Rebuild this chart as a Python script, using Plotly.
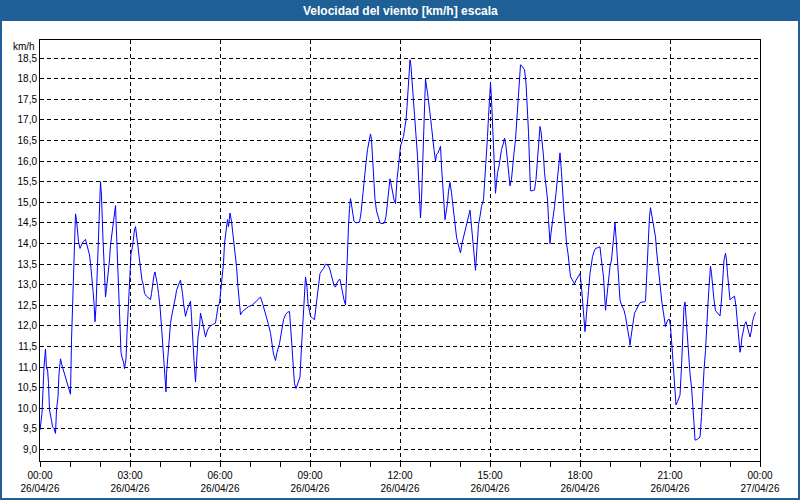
import pandas as pd
import plotly.graph_objects as go

# ---- data ----
fecha_base = "2026-04-26"
minutos = [
    0, 4, 8, 11, 13, 15, 17, 19, 23, 25, 28, 31, 33, 36, 38, 41, 44, 47, 51, 55, 58, 61, 63, 65, 68, 69, 71, 73, 75, 77,
    80, 83, 86, 91, 93, 96, 99, 101, 104, 106, 108, 110, 112, 114, 116, 118, 119, 121, 123, 124, 126, 128, 131, 133, 135, 137, 139, 141, 144, 147,
    149, 151, 152, 154, 156, 158, 160, 162, 164, 167, 169, 172, 174, 176, 178, 180, 182, 185, 187, 189, 191, 193, 196, 199, 201, 204, 207, 209, 213, 216,
    221, 223, 225, 228, 230, 232, 235, 237, 240, 243, 245, 248, 250, 252, 253, 255, 257, 259, 261, 263, 266, 268, 271, 273, 276, 279, 281, 283, 285, 287,
    291, 294, 297, 301, 303, 305, 308, 311, 313, 316, 319, 321, 324, 327, 331, 335, 339, 345, 351, 353, 356, 359, 361, 364, 367, 369, 372, 375, 377, 380,
    383, 385, 388, 391, 393, 396, 399, 401, 405, 411, 417, 424, 431, 436, 441, 445, 449, 453, 457, 461, 464, 467, 471, 474, 479, 483, 487, 491, 495, 499,
    501, 504, 507, 509, 512, 515, 517, 520, 523, 525, 528, 531, 532, 534, 536, 539, 541, 545, 549, 552, 555, 557, 560, 564, 567, 571,
    577, 580, 583, 585, 588, 591, 593, 597, 600, 603, 605, 608, 611, 613, 615, 617, 619, 621, 623, 625, 628, 632, 639, 642, 645, 649, 652, 655, 659, 661,
    663, 665, 667, 670, 673, 677, 680, 684, 689, 692, 695, 697, 700, 703, 705, 708, 711, 712, 714, 717, 719, 721, 724, 727, 729, 732, 734, 736, 738, 740,
    742, 744, 747, 749, 752, 755, 757, 759, 761, 763, 765, 767, 769, 771, 772, 775, 777, 780, 783, 785, 788, 791, 793, 796, 799, 801, 803, 805, 808, 810,
    812, 815, 817, 820, 823, 825, 828, 831, 833, 836, 839, 841, 844, 847, 849, 852, 855, 857, 860,
    863, 865, 868, 871, 873, 875, 877, 880, 883, 887, 889, 892, 895, 897, 900, 901, 903, 905, 907, 909, 911, 913, 915, 918, 921, 923, 927, 929, 932, 935,
    937, 940, 943, 945, 948, 951, 953, 956, 959, 961, 964, 967, 969, 972, 975, 977, 979, 981, 984, 987, 989, 992, 995, 997, 1000, 1002, 1004, 1007, 1009, 1012,
    1015, 1017, 1020, 1022, 1024, 1027, 1029, 1032, 1035, 1037, 1040, 1043, 1045, 1048, 1051, 1053, 1056, 1059, 1061, 1064, 1067, 1069, 1072, 1075, 1077, 1080,
    1083, 1085, 1088, 1090, 1092, 1094, 1097, 1100, 1103, 1105, 1108, 1111, 1116, 1120, 1122, 1125, 1127, 1129, 1131, 1133, 1135, 1137, 1140, 1143, 1145, 1148, 1150,
    1152, 1155, 1157, 1160, 1163, 1165, 1168, 1171, 1173, 1176, 1179, 1180, 1182, 1184, 1187, 1189, 1192, 1195, 1197, 1200, 1204, 1208, 1211, 1213, 1215, 1217, 1219, 1221, 1223, 1225,
    1228, 1231, 1233, 1236, 1239, 1241, 1244, 1247, 1249, 1251, 1253, 1256, 1259, 1261, 1264, 1266, 1268, 1270, 1272, 1275, 1277, 1280, 1283, 1285, 1288, 1290, 1292, 1295, 1297, 1300,
    1303, 1305, 1308, 1310, 1312, 1315, 1317, 1320, 1323, 1325, 1328, 1331, 1333, 1336, 1339, 1341, 1343, 1345, 1348, 1351, 1355, 1360, 1363, 1365, 1368, 1371, 1373, 1375, 1377, 1380,
    1383, 1385, 1389, 1392, 1395, 1397, 1400, 1402, 1404, 1407, 1409, 1412, 1415, 1417, 1420, 1423, 1425, 1428, 1431,
]
velocidad = [
    9.47, 9.88, 11.0, 11.44, 10.96, 10.96, 10.6, 9.96, 9.71, 9.55, 9.51, 9.39, 9.96, 10.28, 10.84, 11.2, 11.04, 10.92, 10.76, 10.6, 10.44, 10.34, 11.65, 12.5, 13.4, 14.3, 14.72, 14.58, 14.3, 14.04,
    13.88, 13.96, 14.04, 14.1, 14.0, 13.84, 13.72, 13.52, 13.19, 12.86, 12.55, 12.1, 12.47, 13.11, 13.76, 14.5, 14.9, 15.5, 15.15, 14.66, 14.08, 13.56, 12.7, 12.91, 13.11, 13.39, 13.6, 13.96, 14.25, 14.5,
    14.74, 14.92, 14.58, 13.84, 13.15, 12.47, 11.78, 11.36, 11.24, 11.12, 10.96, 11.2, 11.82, 12.3, 12.86, 13.35, 13.76, 13.92, 14.16, 14.33, 14.41, 14.16, 13.92, 13.6, 13.35, 13.11, 12.98, 12.79, 12.72, 12.69,
    12.64, 12.79, 13.02, 13.23, 13.31, 13.19, 12.98, 12.79, 12.47, 11.98, 11.57, 11.08, 10.56, 10.4, 10.84, 11.16, 11.57, 11.9, 12.06, 12.22, 12.38, 12.5, 12.7, 12.86, 12.98, 13.06, 13.11, 12.98, 12.79, 12.55,
    12.23, 12.38, 12.5, 12.6, 12.23, 11.65, 11.16, 10.64, 11.16, 11.73, 11.98, 12.31, 12.15, 11.98, 11.73, 11.9, 11.98, 12.03, 12.07, 12.23, 12.47, 12.55, 12.79, 13.11, 13.52, 14.0, 14.33, 14.58, 14.41, 14.74,
    14.54, 14.33, 14.0, 13.76, 13.44, 12.94, 12.55, 12.27, 12.35, 12.41, 12.47, 12.5, 12.59, 12.64, 12.7, 12.55, 12.38, 12.23, 12.03, 11.82, 11.57, 11.32, 11.16, 11.36, 11.57, 11.82, 12.15, 12.27, 12.33, 12.35,
    12.07, 11.49, 10.93, 10.6, 10.48, 10.6, 10.68, 10.76, 11.49, 11.98, 12.63, 13.19, 13.11, 12.94, 12.55, 12.31, 12.23, 12.19, 12.15, 12.47, 12.79, 13.11, 13.27, 13.35, 13.39, 13.5,
    13.46, 13.36, 13.19, 13.11, 12.98, 12.94, 13.02, 13.11, 13.13, 12.94, 12.79, 12.63, 12.51, 13.27, 13.83, 14.42, 14.85, 15.09, 14.94, 14.74, 14.54, 14.5, 14.52, 14.74, 15.15, 15.56, 15.96, 16.28, 16.52, 16.66,
    16.52, 16.04, 15.47, 15.07, 14.79, 14.62, 14.5, 14.48, 14.5, 14.66, 15.02, 15.31, 15.57, 15.39, 15.23, 15.06, 14.97, 15.23, 15.56, 15.88, 16.12, 16.36, 16.48, 16.6, 16.76, 17.0, 17.32, 17.74, 18.14, 18.46,
    18.3, 17.98, 17.56, 17.08, 16.6, 16.12, 15.64, 15.15, 14.62, 15.06, 15.72, 16.37, 17.08, 18.0, 17.9, 17.66, 17.4, 17.16, 16.84, 16.52, 16.28, 16.0, 16.16, 16.2, 16.28, 16.36, 15.88, 15.48, 15.07, 14.58,
    14.74, 14.98, 15.27, 15.48, 15.23, 14.98, 14.66, 14.33, 14.16, 14.0, 13.88, 13.77, 14.0, 14.16, 14.28, 14.46, 14.58, 14.7, 14.81,
    14.42, 14.08, 13.76, 13.35, 13.68, 14.08, 14.46, 14.66, 14.9, 15.06, 15.39, 16.03, 16.6, 17.08, 17.6, 17.9, 17.5, 17.0, 16.52, 15.96, 15.22, 15.48, 15.72, 15.88, 16.08, 16.28, 16.44, 16.56, 16.36, 16.04,
    15.72, 15.4, 15.56, 15.88, 16.2, 16.52, 16.92, 17.48, 17.98, 18.34, 18.3, 18.26, 18.22, 17.9, 17.34, 16.7, 15.98, 15.28, 15.28, 15.3, 15.3, 15.56, 16.12, 16.52, 16.84, 16.72, 16.52, 16.12, 15.72, 15.4,
    15.08, 14.58, 14.0, 14.25, 14.41, 14.66, 14.9, 15.22, 15.56, 15.8, 16.2, 15.72, 15.22, 14.74, 14.33, 14.0, 13.76, 13.44, 13.19, 13.13, 13.06, 13.02, 13.11, 13.17, 13.23, 13.27,
    12.94, 12.55, 12.23, 11.86, 12.15, 12.55, 12.86, 13.27, 13.52, 13.68, 13.8, 13.88, 13.9, 13.92, 13.68, 13.44, 13.19, 12.79, 12.38, 12.63, 12.86, 13.19, 13.44, 13.6, 13.92, 14.25, 14.5,
    14.16, 13.6, 13.11, 12.63, 12.51, 12.47, 12.38, 12.23, 12.03, 11.86, 11.65, 11.53, 11.73, 11.9, 12.15, 12.31, 12.38, 12.47, 12.5, 12.56, 12.58, 12.58, 12.6, 13.11, 13.76, 14.33, 14.66, 14.87, 14.74, 14.58,
    14.42, 14.16, 13.84, 13.44, 13.02, 12.79, 12.55, 12.31, 12.1, 11.98, 12.07, 12.15, 12.16, 11.98, 11.49, 11.08, 10.68, 10.28, 10.08, 10.16, 10.24, 10.32, 11.0, 11.82, 12.47, 12.58, 12.23, 11.73, 11.24, 10.84,
    10.52, 10.04, 9.63, 9.23, 9.23, 9.25, 9.27, 9.3, 9.8, 10.36, 10.92, 11.4, 11.98, 12.55, 13.11, 13.45, 13.27, 12.94, 12.63, 12.37, 12.31, 12.24, 12.63, 13.11, 13.6, 13.76, 13.6, 13.27, 12.94, 12.63,
    12.67, 12.69, 12.72, 12.47, 12.07, 11.73, 11.36, 11.49, 11.73, 11.9, 12.03, 12.1, 11.98, 11.9, 11.73, 11.9, 12.1, 12.23, 12.33,
]

x_tick_vals = ["2026-04-26 00:00", "2026-04-26 03:00", "2026-04-26 06:00", "2026-04-26 09:00",
               "2026-04-26 12:00", "2026-04-26 15:00", "2026-04-26 18:00", "2026-04-26 21:00",
               "2026-04-27 00:00"]
x_tick_text = ["00:00<br>26/04/26", "03:00<br>26/04/26", "06:00<br>26/04/26", "09:00<br>26/04/26",
               "12:00<br>26/04/26", "15:00<br>26/04/26", "18:00<br>26/04/26", "21:00<br>26/04/26",
               "00:00<br>27/04/26"]
y_tick_vals = [9.0, 9.5, 10.0, 10.5, 11.0, 11.5, 12.0, 12.5, 13.0, 13.5,
               14.0, 14.5, 15.0, 15.5, 16.0, 16.5, 17.0, 17.5, 18.0, 18.5]
y_tick_text = ["9,0", "9,5", "10,0", "10,5", "11,0", "11,5", "12,0", "12,5", "13,0", "13,5",
               "14,0", "14,5", "15,0", "15,5", "16,0", "16,5", "17,0", "17,5", "18,0", "18,5"]
titulo = "Velocidad del viento [km/h] escala"
unidad = "km/h"

# ---- figure ----
tiempos = pd.Timestamp(fecha_base) + pd.to_timedelta(minutos, unit="min")

W, H = 800, 500
ML, MR, MT, MB = 40, 40, 40, 39
PW, PH = W - ML - MR, H - MT - MB
BLUE = "#1e6095"
FONT = "Liberation Sans"


def px_x(x):
    return (x - ML) / PW


def px_y(y):
    return (H - MB - y) / PH


fig = go.Figure()
fig.add_trace(go.Scatter(x=tiempos, y=velocidad, mode="lines",
                         line=dict(color="#0000ff", width=1), hoverinfo="x+y"))

fig.update_layout(
    width=W, height=H,
    margin=dict(l=ML, r=MR, t=MT, b=MB, autoexpand=False),
    paper_bgcolor="white", plot_bgcolor="white",
    showlegend=False,
    font=dict(family=FONT, size=10, color="black"),
    xaxis=dict(
        type="date", automargin=False,
        range=[x_tick_vals[0], x_tick_vals[-1]],
        tickmode="array", tickvals=x_tick_vals, ticktext=x_tick_text,
        showgrid=True, gridcolor="black", gridwidth=1, griddash="4px,3px",
        showline=True, linecolor="black", linewidth=1, mirror=True,
        ticks="outside", ticklen=5, tickcolor="black", tickwidth=1,
        minor=dict(tickmode="linear", tick0=x_tick_vals[0], dtick=3600000,
                   ticks="outside", ticklen=5, tickcolor="black", showgrid=False),
        tickfont=dict(family=FONT, size=10, color="black"),
        zeroline=False, fixedrange=True,
    ),
    yaxis=dict(
        automargin=False,
        range=[8.72, 18.94],
        tickmode="array", tickvals=y_tick_vals, ticktext=y_tick_text,
        showgrid=True, gridcolor="black", gridwidth=1, griddash="4px,3px",
        showline=True, linecolor="black", linewidth=1, mirror=True,
        ticks="", zeroline=False, fixedrange=True,
        tickfont=dict(family=FONT, size=10, color="black"),
    ),
    shapes=[
        dict(type="rect", xref="paper", yref="paper",
             x0=px_x(0), x1=px_x(W), y0=px_y(21), y1=px_y(0),
             fillcolor=BLUE, line=dict(width=0), layer="above"),
        dict(type="rect", xref="paper", yref="paper",
             x0=px_x(1), x1=px_x(W - 1), y0=px_y(H - 1), y1=px_y(1),
             fillcolor="rgba(0,0,0,0)", line=dict(color=BLUE, width=2), layer="above"),
    ],
    annotations=[
        dict(text="<b>" + titulo + "</b>", xref="paper", yref="paper",
             x=px_x(W / 2), y=px_y(10.5), xanchor="center", yanchor="middle",
             showarrow=False, font=dict(family=FONT, size=12, color="white")),
        dict(text=unidad, xref="paper", yref="paper",
             x=px_x(37), y=px_y(46), xanchor="right", yanchor="middle",
             showarrow=False, font=dict(family=FONT, size=10, color="black")),
    ],
)

fig.write_html(
    "out.html",
    config={"displayModeBar": False, "staticPlot": True},
    post_script="document.body.style.margin='0';document.body.style.overflow='hidden';",
)
